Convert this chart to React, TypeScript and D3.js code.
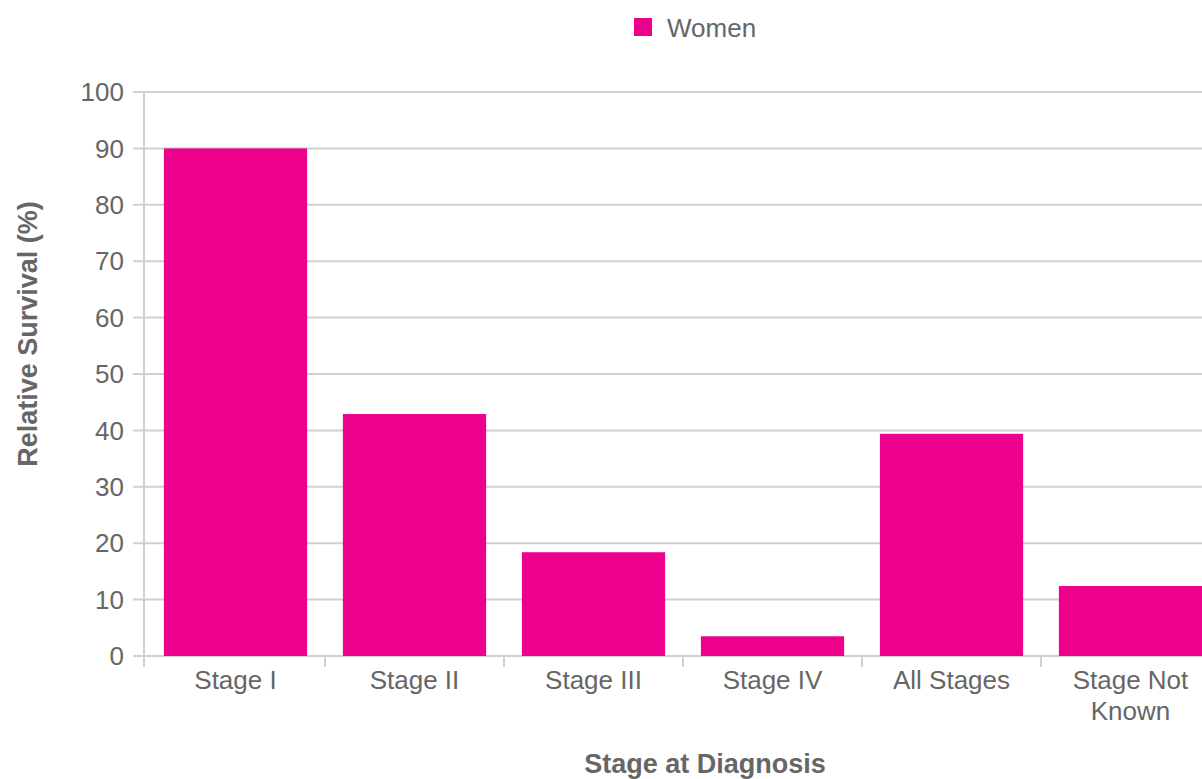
import React from "react";
import * as d3 from "d3";

const categories: string[][] = [
  ["Stage I"],
  ["Stage II"],
  ["Stage III"],
  ["Stage IV"],
  ["All Stages"],
  ["Stage Not", "Known"],
];
const women: number[] = [90.0, 42.9, 18.4, 3.5, 39.4, 12.4];
const yTicks: number[] = [0, 10, 20, 30, 40, 50, 60, 70, 80, 90, 100];
const seriesName = "Women";
const xTitle = "Stage at Diagnosis";
const yTitle = "Relative Survival (%)";

const W = 1202;
const H = 779;
const left = 146;
const right = 1220;
const top = 92;
const bottom = 656;
const color = "#EC008C";
const textColor = "#666666";
const gridColor = "#d0d0d0";
const font = "'Liberation Sans', Arial, Helvetica, sans-serif";

export default function App() {
  const keys = categories.map((c) => c.join(" "));
  const x = d3.scaleBand<string>().domain(keys).range([left, right]).paddingInner(0.2).paddingOuter(0.1);
  const y = d3.scaleLinear().domain([0, 100]).range([bottom, top]);
  const step = x.step();
  const bandStarts = keys.map((k) => (x(k) as number) - x.paddingInner() * step / 2);

  return (
    <div style={{ position: "absolute", left: 0, top: 0 }}>
      <svg width={W} height={H} style={{ display: "block", fontFamily: font }}>
        {/* legend */}
        <rect x={634} y={18} width={18} height={18} fill={color} />
        <text x={667} y={37} fontSize={26} fill={textColor}>{seriesName}</text>

        {/* gridlines */}
        {yTicks.map((t) => (
          <g key={t}>
            <line x1={133} x2={W} y1={y(t)} y2={y(t)} stroke={gridColor} strokeWidth={2} />
            <text x={124} y={y(t)} dy="0.35em" textAnchor="end" fontSize={26} fill={textColor}>{t}</text>
          </g>
        ))}
        {/* y axis line */}
        <line x1={144} x2={144} y1={top} y2={bottom + 11} stroke={gridColor} strokeWidth={2} />

        {/* bars */}
        {keys.map((k, i) => (
          <rect key={k} x={x(k)} y={y(women[i])} width={x.bandwidth()} height={y(0) - y(women[i])} fill={color} />
        ))}

        {/* x ticks */}
        {bandStarts.map((bx, i) => (
          <line key={i} x1={i === 0 ? 144 : bx} x2={i === 0 ? 144 : bx} y1={bottom} y2={bottom + 11} stroke={gridColor} strokeWidth={2} />
        ))}
        {keys.map((k, i) => (
          <text key={k} textAnchor="middle" fontSize={26} fill={textColor}>
            {categories[i].map((line, j) => (
              <tspan key={j} x={(x(k) as number) + x.bandwidth() / 2} y={689 + j * 31}>{line}</tspan>
            ))}
          </text>
        ))}

        {/* axis titles */}
        <text x={705} y={773} textAnchor="middle" fontSize={27} fontWeight="bold" fill={textColor}>{xTitle}</text>
        <text transform={`translate(37, 334) rotate(-90)`} textAnchor="middle" fontSize={27} fontWeight="bold" fill={textColor}>{yTitle}</text>
      </svg>
    </div>
  );
}
